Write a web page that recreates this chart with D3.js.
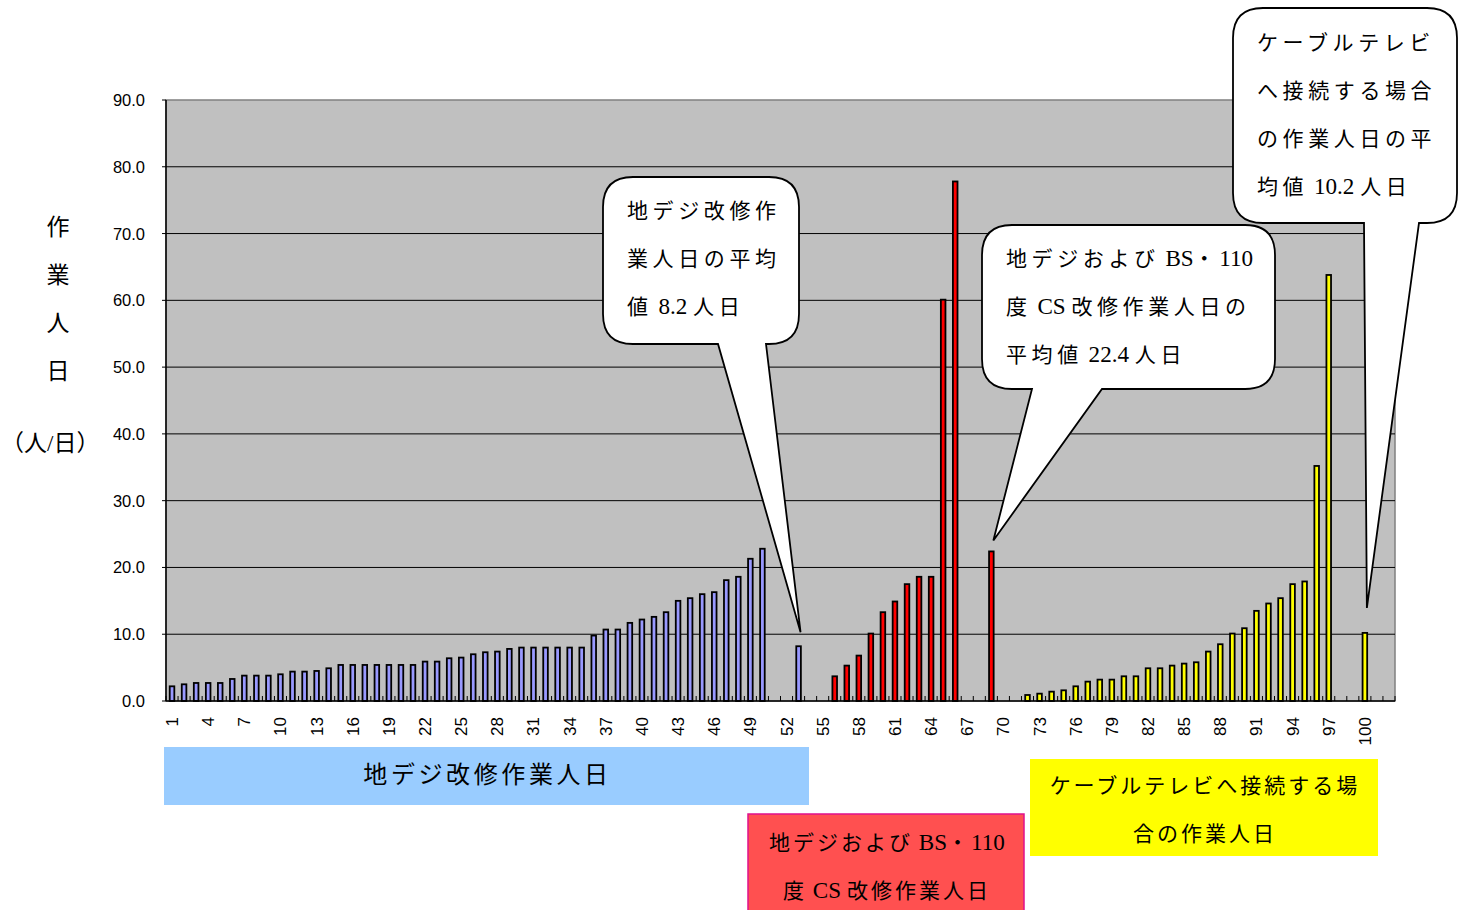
<!DOCTYPE html>
<html>
<head>
<meta charset="utf-8">
<script src="https://cdn.jsdelivr.net/npm/d3@7"></script>
<style>
  body { margin: 0; background: #fff; }
  svg { display: block; }
  .num { font-family: "Liberation Sans", Arial, sans-serif; font-size: 16px; fill: #000; }
  .jp { font-family: "Liberation Serif", "Noto Sans CJK JP", serif; fill: #000; }
</style>
</head>
<body>
<div id="chart"></div>
<script>
  const categories = d3.range(1, 103);
  const tickLabels = d3.range(1, 101, 3);
  const yTicks = [0, 10, 20, 30, 40, 50, 60, 70, 80, 90];

  // 地デジ改修
  const digiIds = [...d3.range(1, 51), 53];
  const digiValues = [2.2, 2.5, 2.7, 2.7, 2.7, 3.3, 3.8, 3.8, 3.8, 4.0,
    4.4, 4.4, 4.5, 4.9, 5.4, 5.4, 5.4, 5.4, 5.4, 5.4,
    5.4, 5.9, 5.9, 6.4, 6.5, 7.0, 7.3, 7.4, 7.8, 8.0,
    8.0, 8.0, 8.0, 8.0, 8.0, 9.8, 10.7, 10.7, 11.7, 12.2,
    12.6, 13.3, 15.0, 15.4, 16.0, 16.3, 18.1, 18.6, 21.3, 22.8, 8.2];

  // 地デジおよびBS・110度CS
  const bsIds = [...d3.range(56, 67), 69];
  const bsValues = [3.7, 5.3, 6.8, 10.1, 13.3, 14.9, 17.5, 18.6, 18.6, 60.1, 77.8, 22.4];

  // ケーブルテレビ
  const catvIds = [...d3.range(72, 98), 100];
  const catvValues = [0.9, 1.1, 1.4, 1.6, 2.2, 2.9, 3.2, 3.2, 3.7, 3.7,
    4.9, 4.9, 5.3, 5.6, 5.8, 7.4, 8.5, 10.1, 10.9, 13.5,
    14.6, 15.4, 17.5, 17.9, 35.2, 63.8, 10.2];

  const series = [
    { ids: digiIds, values: digiValues, color: "#9999FF" },
    { ids: bsIds, values: bsValues, color: "#FF0000" },
    { ids: catvIds, values: catvValues, color: "#FFFF00" }
  ];

  const width = 1467, height = 910;
  const plotL = 166, plotR = 1395, plotT = 100, plotB = 701;

  const svg = d3.select("#chart").append("svg")
    .attr("width", width).attr("height", height);

  const x = d3.scaleBand().domain(categories).range([plotL, plotR]).padding(0);
  const y = d3.scaleLinear().domain([0, 90]).range([plotB, plotT]);
  const bw = x.bandwidth();

  // mixed text: spaced-out CJK, tight latin
  function mixedText(sel, spacing) {
    sel.each(function(d) {
      const t = d3.select(this);
      const runs = d.match(/[\x20-\x7e]+|[^\x20-\x7e]+/g);
      runs.forEach(r => {
        const latin = /^[\x20-\x7e]+$/.test(r);
        t.append("tspan")
          .style("letter-spacing", latin ? "0px" : spacing + "px")
          .style("font-size", latin ? "1.1em" : null)
          .text(r);
      });
    });
  }

  // plot area
  svg.append("rect")
    .attr("x", plotL).attr("y", plotT)
    .attr("width", plotR - plotL).attr("height", plotB - plotT)
    .attr("fill", "#C0C0C0").attr("stroke", "#808080").attr("stroke-width", 1.5);

  svg.append("g").selectAll("line")
    .data(yTicks.filter(d => d > 0 && d < 90))
    .enter().append("line")
    .attr("x1", plotL).attr("x2", plotR)
    .attr("y1", d => y(d)).attr("y2", d => y(d))
    .attr("stroke", "#000").attr("stroke-width", 1);

  // bars
  series.forEach(s => {
    svg.append("g").selectAll("rect")
      .data(s.ids.map((id, i) => ({ id, v: s.values[i] })))
      .enter().append("rect")
      .attr("x", d => x(d.id) + bw / 2 - 2.3)
      .attr("width", 4.6)
      .attr("y", d => y(d.v))
      .attr("height", d => y(0) - y(d.v))
      .attr("fill", s.color)
      .attr("stroke", "#000").attr("stroke-width", 1.8);
  });

  // axes
  svg.append("line").attr("x1", plotL).attr("x2", plotL).attr("y1", plotT).attr("y2", plotB)
    .attr("stroke", "#000").attr("stroke-width", 1.5);
  svg.append("line").attr("x1", plotL).attr("x2", plotR).attr("y1", plotB).attr("y2", plotB)
    .attr("stroke", "#000").attr("stroke-width", 1.5);

  svg.append("g").selectAll("line")
    .data(yTicks).enter().append("line")
    .attr("x1", plotL - 4).attr("x2", plotL)
    .attr("y1", d => y(d)).attr("y2", d => y(d))
    .attr("stroke", "#000");
  svg.append("g").selectAll("text")
    .data(yTicks).enter().append("text")
    .attr("class", "num")
    .attr("x", 145).attr("y", d => y(d) + 6)
    .attr("text-anchor", "end")
    .style("font-size", "16.5px")
    .text(d => d.toFixed(1));

  svg.append("g").selectAll("line")
    .data(categories).enter().append("line")
    .attr("x1", d => x(d)).attr("x2", d => x(d))
    .attr("y1", plotB - 5).attr("y2", plotB)
    .attr("stroke", "#000");
  svg.append("line").attr("x1", plotR).attr("x2", plotR).attr("y1", plotB - 5).attr("y2", plotB)
    .attr("stroke", "#000");

  svg.append("g").selectAll("text")
    .data(tickLabels).enter().append("text")
    .attr("class", "num")
    .attr("transform", d => `translate(${x(d) + bw / 2 + 6},717) rotate(-90)`)
    .attr("text-anchor", "end")
    .style("font-size", "17px")
    .text(d => d);

  // y title
  const yTitle = ["作", "業", "人", "日"];
  svg.append("g").selectAll("text")
    .data(yTitle).enter().append("text")
    .attr("class", "jp")
    .attr("x", 58).attr("y", (d, i) => 235 + i * 48)
    .attr("text-anchor", "middle")
    .style("font-size", "23px")
    .text(d => d);
  svg.append("text").attr("class", "jp")
    .attr("x", 1).attr("y", 451)
    .attr("text-anchor", "start")
    .style("font-size", "23px")
    .text("（人/日）");

  // speech bubbles
  function bubble(x0, y0, x1, y1, r, tl, tr, tx, ty) {
    return `M${x0 + r},${y0} H${x1 - r} Q${x1},${y0} ${x1},${y0 + r} V${y1 - r} Q${x1},${y1} ${x1 - r},${y1}` +
      ` H${tr} L${tx},${ty} L${tl},${y1} H${x0 + r} Q${x0},${y1} ${x0},${y1 - r} V${y0 + r} Q${x0},${y0} ${x0 + r},${y0} Z`;
  }

  const bubbles = [
    { box: [603, 177, 799, 344], tail: [718, 766], tip: [53, 8.2, 2, -14],
      lines: ["地デジ改修作", "業人日の平均", "値 8.2 人日"], ty: 218 },
    { box: [982, 225, 1275, 389], tail: [1032, 1102], tip: [69, 22.4, 2, -11],
      lines: ["地デジおよび BS・110", "度 CS 改修作業人日の", "平均値 22.4 人日"], ty: 266 },
    { box: [1233, 8, 1457, 223], tail: [1364, 1419], tip: [100, 10.2, 2, -25],
      lines: ["ケーブルテレビ", "へ接続する場合", "の作業人日の平", "均値 10.2 人日"], ty: 50 }
  ];

  bubbles.forEach(b => {
    const tx = x(b.tip[0]) + bw / 2 + b.tip[2];
    const ty = y(b.tip[1]) + b.tip[3];
    svg.append("path")
      .attr("d", bubble(b.box[0], b.box[1], b.box[2], b.box[3], 30, b.tail[0], b.tail[1], tx, ty))
      .attr("fill", "#fff").attr("stroke", "#000").attr("stroke-width", 1.8);
    svg.append("g").selectAll("text")
      .data(b.lines).enter().append("text")
      .attr("class", "jp")
      .attr("x", b.box[0] + 24)
      .attr("y", (d, i) => b.ty + i * 48)
      .style("font-size", "21px")
      .call(mixedText, 4.6);
  });

  // category labels
  const labelBoxes = [
    { box: [164, 747, 809, 805], fill: "#99CCFF", stroke: "none", size: 24, sp: 3.6,
      lines: ["地デジ改修作業人日"], ty: 783 },
    { box: [748, 814, 1024, 915], fill: "#FF5050", stroke: "#E0108C", size: 21, sp: 3,
      lines: ["地デジおよび BS・110", "度 CS 改修作業人日"], ty: 850 },
    { box: [1030, 759, 1378, 856], fill: "#FFFF00", stroke: "none", size: 21, sp: 3,
      lines: ["ケーブルテレビへ接続する場", "合の作業人日"], ty: 793 }
  ];

  labelBoxes.forEach(b => {
    svg.append("rect")
      .attr("x", b.box[0]).attr("y", b.box[1])
      .attr("width", b.box[2] - b.box[0]).attr("height", b.box[3] - b.box[1])
      .attr("fill", b.fill).attr("stroke", b.stroke).attr("stroke-width", 1.5);
    svg.append("g").selectAll("text")
      .data(b.lines).enter().append("text")
      .attr("class", "jp")
      .attr("x", (b.box[0] + b.box[2]) / 2 + 1)
      .attr("y", (d, i) => b.ty + i * 48)
      .attr("text-anchor", "middle")
      .style("font-size", b.size + "px")
      .call(mixedText, b.sp);
  });
</script>
</body>
</html>
